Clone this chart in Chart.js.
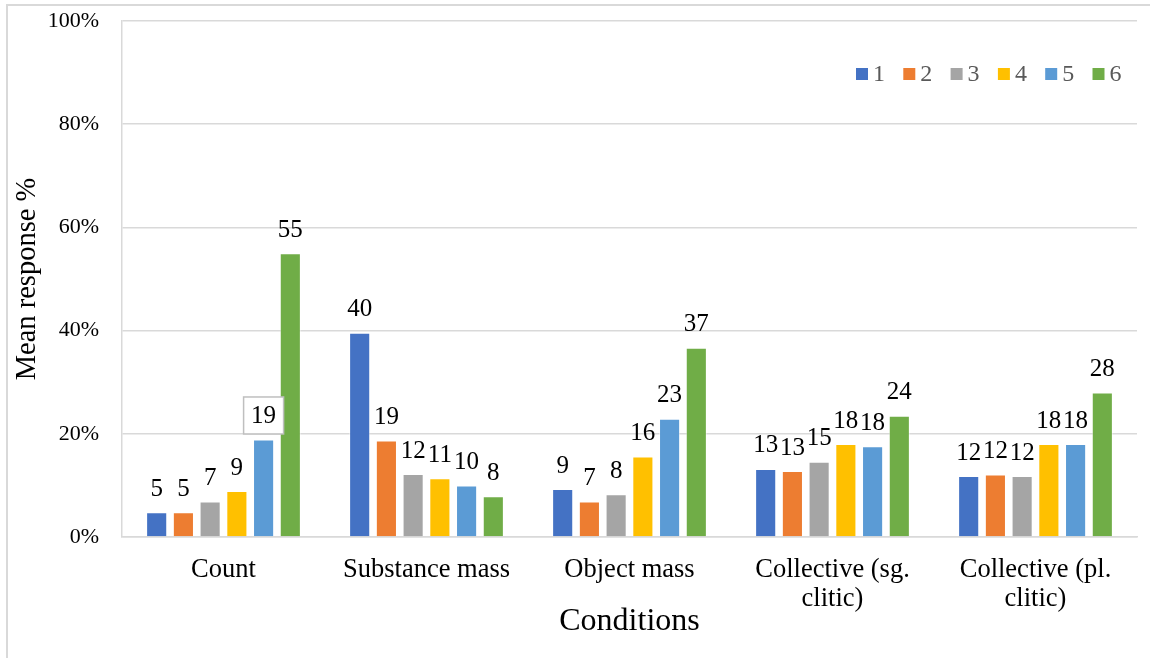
<!DOCTYPE html>
<html>
<head>
<meta charset="utf-8">
<script src="https://cdn.jsdelivr.net/npm/chart.js@4/dist/chart.umd.min.js"></script>
<style>
  html, body { margin: 0; padding: 0; background: #fff; }
  #wrap { position: relative; width: 1150px; height: 658px; }
  #frame { position: absolute; left: 6px; top: 4px; width: 1200px; height: 700px;
           border-left: 2px solid #d9d9d9; border-top: 2px solid #d9d9d9; pointer-events: none; }
</style>
</head>
<body>
<div id="wrap">
  <canvas id="chart" width="1150" height="658"></canvas>
  <div id="frame"></div>
</div>
<script>
// Conditions (catégories)
const conditions = ['Count', 'Substance mass', 'Object mass', ['Collective (sg.', 'clitic)'], ['Collective (pl.', 'clitic)']];

// Séries 1 à 6 (en %)
const seriesNames = ['1', '2', '3', '4', '5', '6'];
const series1 = [4.8, 39.6, 9.3, 13.2, 11.8];
const series2 = [4.8, 18.7, 6.9, 12.8, 12.1];
const series3 = [6.9, 12.2, 8.3, 14.6, 11.8];
const series4 = [8.9, 11.4, 15.6, 18.0, 18.0];
const series5 = [18.9, 10.0, 22.9, 17.6, 18.0];
const series6 = [55.0, 7.9, 36.7, 23.5, 28.0];
const colors = ['#4472C4', '#ED7D31', '#A5A5A5', '#FFC000', '#5B9BD5', '#70AD47'];

// Ticks de l'axe Y
const yTicks = [0, 20, 40, 60, 80, 100];

// Étiquette encadrée (série 5, Count)
const boxedLabel = { series: 4, category: 0 };

const serif = "'Liberation Serif', 'Times New Roman', serif";
Chart.defaults.font.family = serif;

// Étiquettes de valeurs au-dessus des barres
const barLabels = {
    id: 'barLabels',
    afterDatasetsDraw(chart) {
        const ctx = chart.ctx;
        ctx.save();
        ctx.font = '25px ' + serif;
        ctx.textAlign = 'center';
        ctx.textBaseline = 'middle';
        chart.data.datasets.forEach((ds, i) => {
            chart.getDatasetMeta(i).data.forEach((bar, j) => {
                const y = bar.y - 24;
                if (i === boxedLabel.series && j === boxedLabel.category) {
                    ctx.fillStyle = '#fff';
                    ctx.strokeStyle = '#bfbfbf';
                    ctx.lineWidth = 1.5;
                    ctx.fillRect(bar.x - 20, y - 18.5, 40, 37);
                    ctx.strokeRect(bar.x - 20, y - 18.5, 40, 37);
                }
                ctx.fillStyle = '#000';
                ctx.fillText(Math.round(ds.data[j]), bar.x, y + 1);
            });
        });
        ctx.restore();
    }
};

// Légende dans la zone du graphique, en haut à droite
const insideLegend = {
    id: 'insideLegend',
    afterDraw(chart) {
        const ctx = chart.ctx;
        const area = chart.chartArea;
        const x0 = area.right - 281;
        const y0 = area.top + 47;
        ctx.save();
        ctx.font = '24px ' + serif;
        ctx.textAlign = 'left';
        ctx.textBaseline = 'middle';
        chart.data.datasets.forEach((ds, i) => {
            const x = x0 + i * 47.3;
            ctx.fillStyle = ds.backgroundColor;
            ctx.fillRect(x, y0, 12, 12);
            ctx.fillStyle = '#595959';
            ctx.fillText(ds.label, x + 17, y0 + 7);
        });
        ctx.restore();
    }
};

const allSeries = [series1, series2, series3, series4, series5, series6];

new Chart(document.getElementById('chart'), {
    type: 'bar',
    data: {
        labels: conditions,
        datasets: allSeries.map((data, i) => ({
            label: seriesNames[i],
            data: data,
            backgroundColor: colors[i],
            borderColor: 'rgba(255,255,255,0.5)',
            borderWidth: 1,
            categoryPercentage: 0.79,
            barPercentage: 0.79
        }))
    },
    options: {
        responsive: false,
        animation: false,
        layout: { padding: { top: 21, right: 13, left: 0, bottom: 0 } },
        plugins: {
            legend: { display: false },
            tooltip: { enabled: false }
        },
        scales: {
            x: {
                grid: { display: false, drawTicks: false },
                border: { display: true, color: '#d9d9d9', width: 1.5 },
                ticks: {
                    color: '#000',
                    font: { size: 26.5, lineHeight: 1.08 },
                    padding: 19,
                    maxRotation: 0,
                    autoSkip: false
                },
                title: {
                    display: true,
                    text: 'Conditions',
                    color: '#000',
                    font: { size: 32 },
                    padding: { top: 0, bottom: 17 }
                },
                afterFit(scale) { scale.height = 121; }
            },
            y: {
                min: 0,
                max: 100,
                afterBuildTicks(scale) { scale.ticks = yTicks.map(v => ({ value: v })); },
                grid: { color: '#d9d9d9', lineWidth: 1.5, drawTicks: true, tickLength: 23, tickColor: 'rgba(0,0,0,0)' },
                border: { display: true, color: '#d9d9d9', width: 1.5 },
                ticks: {
                    color: '#000',
                    font: { size: 22 },
                    padding: 0,
                    callback: v => v + '%'
                },
                title: {
                    display: true,
                    text: 'Mean response %',
                    color: '#000',
                    font: { size: 28.5 },
                    padding: { top: 10, bottom: 0 }
                },
                afterFit(scale) { scale.width = 122; }
            }
        }
    },
    plugins: [barLabels, insideLegend]
});
</script>
</body>
</html>
